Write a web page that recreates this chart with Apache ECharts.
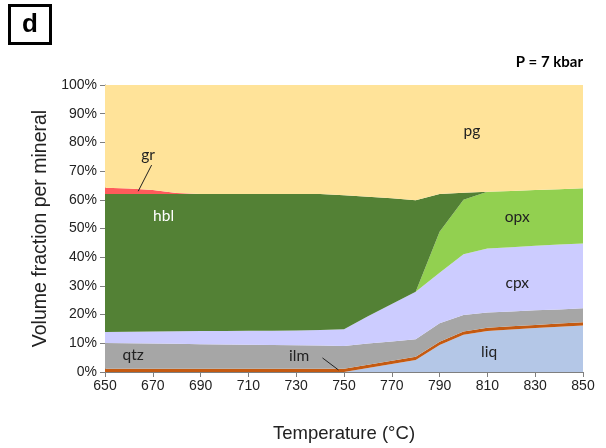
<!DOCTYPE html>
<html>
<head>
<meta charset="utf-8">
<script src="https://cdn.jsdelivr.net/npm/echarts@6/dist/echarts.min.js"></script>
<style>
  html, body { margin: 0; padding: 0; background: #fff; }
  #chart { width: 606px; height: 448px; }
</style>
</head>
<body>
<div id="chart"></div>
<script>
// Temperatures (°C) of the modelled assemblage
const temps = [650, 660, 670, 680, 690, 700, 710, 720, 730, 740, 750, 760, 770, 780, 790, 800, 810, 820, 830, 840, 850];

// Volume fraction (%) of each phase, stacked bottom to top
const liq = [0, 0, 0, 0, 0, 0, 0, 0, 0, 0, 0, 1.4, 2.8, 4.2, 9.4, 13.0, 14.3, 14.8, 15.3, 15.8, 16.2];
const ilm = [1.1, 1.1, 1.1, 1.1, 1.1, 1.1, 1.1, 1.1, 1.1, 1.1, 1.1, 1.1, 1.1, 1.1, 1.1, 1.1, 1.1, 1.1, 1.1, 1.1, 1.1];
const qtz = [9.0, 8.9, 8.8, 8.7, 8.6, 8.5, 8.4, 8.3, 8.2, 8.1, 8.0, 7.4, 6.7, 6.1, 6.5, 5.8, 5.3, 5.2, 5.1, 4.9, 4.9];
const cpx = [3.8, 4.0, 4.2, 4.4, 4.6, 4.7, 4.9, 5.0, 5.2, 5.4, 5.8, 9.5, 13.1, 16.6, 17.6, 21.1, 22.3, 22.4, 22.5, 22.6, 22.6];
const opx = [0, 0, 0, 0, 0, 0, 0, 0, 0, 0, 0, 0, 0, 0, 14.3, 19.0, 19.8, 19.6, 19.4, 19.3, 19.2];
const hbl = [48.1, 48.0, 47.9, 47.8, 47.7, 47.7, 47.6, 47.6, 47.5, 47.4, 46.7, 41.7, 36.8, 31.8, 13.1, 2.5, 0, 0, 0, 0, 0];
const gr  = [2.2, 1.9, 1.4, 0.4, 0, 0, 0, 0, 0, 0, 0, 0, 0, 0, 0, 0, 0, 0, 0, 0, 0];
// plagioclase fills the remainder up to 100 %
const pg = temps.map((_, i) => +(100 - (liq[i] + ilm[i] + qtz[i] + cpx[i] + opx[i] + hbl[i] + gr[i])).toFixed(2));

// Axis tick labels
const xTicks = [650, 670, 690, 710, 730, 750, 770, 790, 810, 830, 850];
const yTicks = [0, 10, 20, 30, 40, 50, 60, 70, 80, 90, 100];

const phases = [
  { name: 'liq', data: liq, color: '#B4C7E7' },
  { name: 'ilm', data: ilm, color: '#C55A11' },
  { name: 'qtz', data: qtz, color: '#A6A6A6' },
  { name: 'cpx', data: cpx, color: '#CCCCFF' },
  { name: 'opx', data: opx, color: '#92D050' },
  { name: 'hbl', data: hbl, color: '#538135' },
  { name: 'gr',  data: gr,  color: '#FF5B5B' },
  { name: 'pg',  data: pg,  color: '#FFE399' }
];

const chart = echarts.init(document.getElementById('chart'), null, { renderer: 'canvas' });
const font = 'Liberation Sans, Arial, sans-serif';
const labelFont = 'Lato, "Open Sans", sans-serif';
const axisGrey = '#7f7f7f';

chart.setOption({
  animation: false,
  backgroundColor: '#ffffff',
  grid: { left: 105, right: 23, top: 85, bottom: 76 },
  xAxis: [
    {
      type: 'category', data: temps.map(String), boundaryGap: false,
      name: 'Temperature (°C)', nameLocation: 'middle', nameGap: 52,
      nameTextStyle: { fontFamily: font, fontSize: 18.5, color: '#222' },
      axisLine: { lineStyle: { color: axisGrey, width: 1 } },
      axisTick: { show: true, length: 5, interval: i => xTicks.includes(temps[i]), lineStyle: { color: axisGrey } },
      axisLabel: {
        fontFamily: font, fontSize: 14, color: '#222', margin: 7,
        interval: (i, v) => xTicks.includes(+v)
      },
      splitLine: { show: false }
    },
    // companion value axis used to place annotations at arbitrary temperatures
    { type: 'value', min: temps[0], max: temps[temps.length - 1], show: false, gridIndex: 0 }
  ],
  yAxis: {
    type: 'value', min: yTicks[0], max: yTicks[yTicks.length - 1], interval: 10,
    name: 'Volume fraction per mineral', nameLocation: 'middle', nameGap: 51,
    nameTextStyle: { fontFamily: font, fontSize: 19.5, color: '#222' },
    axisLine: { show: true, lineStyle: { color: axisGrey, width: 1 } },
    axisTick: { show: true, length: 5, lineStyle: { color: axisGrey } },
    axisLabel: { fontFamily: font, fontSize: 14, color: '#222', margin: 8, formatter: '{value}%' },
    splitLine: { show: false }
  },
  series: phases.map(p => ({
    name: p.name,
    type: 'line',
    stack: 'modes',
    xAxisIndex: 0,
    data: p.data,
    symbol: 'none',
    smooth: false,
    lineStyle: { width: 0 },
    areaStyle: { color: p.color, opacity: 1 },
    itemStyle: { color: p.color },
    z: 2
  }))
});

// Phase labels placed in data coordinates
const phaseLabels = [
  { text: 'gr',  at: [668, 75.6], color: '#222' },
  { text: 'hbl', at: [674.5, 54.3], color: '#ffffff' },
  { text: 'pg',  at: [803.5, 84], color: '#222' },
  { text: 'opx', at: [822.5, 54], color: '#222' },
  { text: 'cpx', at: [822.5, 31], color: '#222' },
  { text: 'qtz', at: [661.8, 5.9], color: '#222' },
  { text: 'ilm', at: [731.2, 5.6], color: '#222' },
  { text: 'liq', at: [810.7, 7], color: '#222' }
];
const leaders = [
  { from: [669.5, 72.1], to: [663.9, 63.0] },
  { from: [741.0, 4.9], to: [747.7, 0.7] }
];

const px = v => chart.convertToPixel({ xAxisIndex: 1, yAxisIndex: 0 }, v);
const graphics = [];
phaseLabels.forEach(l => {
  const p = px(l.at);
  graphics.push({
    type: 'text', x: p[0], y: p[1], z: 10,
    style: { text: l.text, fill: l.color, font: '15.5px ' + labelFont, textAlign: 'center', textVerticalAlign: 'middle' }
  });
});
leaders.forEach(l => {
  const a = px(l.from), b = px(l.to);
  graphics.push({
    type: 'line', z: 10,
    shape: { x1: a[0], y1: a[1], x2: b[0], y2: b[1] },
    style: { stroke: '#222', lineWidth: 1 }
  });
});
// Panel letter and pressure annotation
graphics.push({
  type: 'rect', z: 10,
  shape: { x: 9.5, y: 5.5, width: 41, height: 38 },
  style: { fill: '#fff', stroke: '#000', lineWidth: 3 }
});
graphics.push({
  type: 'text', x: 30, y: 25, z: 11,
  style: { text: 'd', fill: '#000', font: 'bold 26px ' + font, textAlign: 'center', textVerticalAlign: 'middle' }
});
graphics.push({
  type: 'text', x: 583, y: 62, z: 11,
  style: { text: 'P = 7 kbar', fill: '#000', font: 'bold 15px ' + labelFont, textAlign: 'right', textVerticalAlign: 'middle' }
});
chart.setOption({ graphic: graphics });
</script>
</body>
</html>
